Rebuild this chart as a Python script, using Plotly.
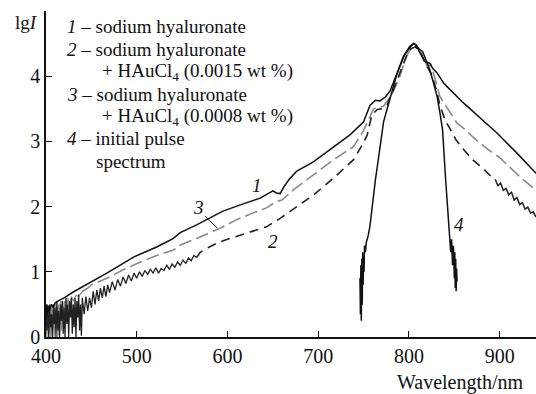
import numpy as np
import plotly.graph_objects as go

# ---- data ----
wl1 = [400, 401, 402, 403, 404, 406, 408, 410, 413, 416, 420, 430, 448, 467, 497, 522, 540, 548, 566,
       595, 615, 636, 650, 654, 658, 662, 668, 676, 695, 713, 735, 750, 757, 763, 768, 774, 779, 787,
       794, 801, 805, 808, 812, 818, 823, 826, 831, 838, 842, 860, 878, 897, 919, 940]
lg1 = [0.30, 0.50, 0.35, 0.48, 0.40, 0.50, 0.45, 0.52, 0.55, 0.57, 0.60, 0.69, 0.83, 0.98, 1.23, 1.38, 1.51, 1.60, 1.72,
       1.93, 2.03, 2.13, 2.24, 2.21, 2.20, 2.30, 2.42, 2.54, 2.69, 2.88, 3.10, 3.30, 3.55, 3.63, 3.62, 3.68, 3.77, 4.05,
       4.31, 4.46, 4.50, 4.48, 4.36, 4.22, 4.20, 4.12, 4.05, 3.90, 3.84, 3.59, 3.36, 3.13, 2.82, 2.51]

wl2 = [400, 401, 402, 403, 404, 405, 406, 407, 408, 409, 410, 411, 412, 413, 414, 415, 416, 417, 418, 419,
       420, 421, 422, 423, 424, 425, 426, 427, 428, 429, 430, 431, 432, 433, 434, 435, 436, 437, 438, 439,
       440, 442, 444, 446, 448, 450, 452, 454, 456, 458, 460, 462, 464, 466, 468, 470, 473, 476, 479, 482,
       485, 488, 491, 494, 497, 500, 503, 506, 509, 512, 515, 518, 521, 524, 527, 530, 533, 536, 539, 542,
       545, 548, 551, 554, 557, 560, 563, 566, 570, 580, 590, 600, 614, 628, 643, 658, 676, 695, 717, 739,
       750, 754, 759, 765, 770, 776, 783, 790, 797, 802, 807, 812, 818, 825, 830, 834, 840, 845, 852, 860,
       870, 882, 890, 895, 898, 901, 904, 907, 910, 913, 916, 919, 922, 925, 928, 931, 934, 937, 940]
lg2 = [0.45, 0.10, 0.40, 0.00, 0.50, 0.15, 0.35, 0.00, 0.50, 0.20, 0.45, 0.00, 0.55, 0.10, 0.40, 0.00, 0.50, 0.25, 0.55, 0.05,
       0.45, 0.00, 0.60, 0.20, 0.50, 0.00, 0.55, 0.30, 0.60, 0.05, 0.50, 0.15, 0.60, 0.00, 0.55, 0.30, 0.65, 0.10, 0.50, 0.02,
       0.60, 0.35, 0.62, 0.40, 0.60, 0.45, 0.70, 0.50, 0.72, 0.55, 0.75, 0.60, 0.78, 0.62, 0.80, 0.68, 0.85, 0.72, 0.88, 0.78,
       0.92, 0.82, 0.95, 0.86, 0.98, 0.90, 1.00, 0.93, 1.02, 0.96, 1.04, 0.98, 1.06, 0.98, 1.05, 1.02, 1.10, 1.04, 1.12, 1.07,
       1.15, 1.10, 1.18, 1.13, 1.21, 1.17, 1.25, 1.22, 1.30, 1.38, 1.45, 1.50, 1.56, 1.63, 1.69, 1.82, 2.00, 2.18, 2.44, 2.72,
       2.98, 3.10, 3.40, 3.49, 3.50, 3.56, 3.80, 4.05, 4.30, 4.42, 4.45, 4.38, 4.20, 4.02, 3.80, 3.56, 3.32, 3.20, 3.02, 2.88,
       2.72, 2.58, 2.47, 2.42, 2.32, 2.36, 2.25, 2.28, 2.18, 2.22, 2.10, 2.14, 2.03, 2.06, 1.96, 1.99, 1.90, 1.92, 1.84]

wl3 = [400, 401, 402, 403, 404, 405, 406, 407, 408, 409, 410, 411, 412, 413, 414, 415, 416, 417, 418, 419,
       420, 422, 424, 426, 428, 430, 433, 436, 440, 445, 450, 467, 485, 504, 522, 540, 548, 566, 592, 610,
       628, 643, 654, 660, 673, 695, 717, 739, 750, 756, 761, 766, 772, 782, 790, 797, 802, 807, 812, 817,
       820, 824, 828, 834, 845, 853, 862, 871, 885, 900, 922, 940]
lg3 = [0.30, 0.00, 0.35, 0.05, 0.40, 0.00, 0.45, 0.10, 0.30, 0.00, 0.50, 0.15, 0.45, 0.00, 0.50, 0.20, 0.55, 0.10, 0.50, 0.30,
       0.55, 0.35, 0.60, 0.45, 0.62, 0.55, 0.64, 0.62, 0.70, 0.74, 0.80, 0.90, 1.03, 1.15, 1.25, 1.33, 1.41, 1.51, 1.67, 1.80,
       1.90, 1.98, 2.08, 2.10, 2.26, 2.49, 2.72, 2.92, 3.17, 3.35, 3.50, 3.52, 3.54, 3.74, 4.00, 4.30, 4.42, 4.46, 4.40, 4.25,
       4.15, 4.18, 4.00, 3.69, 3.45, 3.28, 3.18, 3.06, 2.90, 2.75, 2.46, 2.25]

wl4 = [746, 746.5, 747, 747.5, 748, 748.5, 749, 749.5, 750, 750.5, 751, 752, 753, 754, 755, 757, 760, 763,
       765, 768, 772, 776, 780, 783, 786, 790, 795, 800, 803, 805, 808, 811, 815, 820, 823, 827, 831, 834,
       837, 840, 842, 843.5, 845, 846, 847, 848, 849, 850, 850.5, 851, 851.5, 852, 852.5, 853]
lg4 = [0.90, 0.35, 1.10, 0.25, 1.20, 0.50, 1.30, 0.80, 1.25, 1.00, 1.40, 1.30, 1.45, 1.50, 1.55, 1.70, 2.10, 2.41,
       2.60, 2.92, 3.30, 3.50, 3.70, 3.85, 4.00, 4.15, 4.32, 4.42, 4.46, 4.50, 4.47, 4.42, 4.38, 4.22, 4.10, 3.90, 3.69, 3.45,
       3.18, 2.50, 2.10, 1.85, 1.60, 1.30, 1.50, 1.10, 1.40, 0.90, 1.30, 0.75, 1.20, 0.70, 1.05, 0.85]

x_ticks = [400, 500, 600, 700, 800, 900]
y_ticks = [0, 1, 2, 3, 4]

legend_lines = [
    ("<i>1</i> – sodium hyaluronate", 0),
    ("<i>2</i> – sodium hyaluronate", 0),
    ("+ HAuCl<sub>4</sub> (0.0015 wt %)", 1),
    ("<i>3</i> – sodium hyaluronate", 0),
    ("+ HAuCl<sub>4</sub> (0.0008 wt %)", 1),
    ("<i>4</i> – initial pulse", 0),
    ("spectrum", 2),
]

# ---- layout geometry ----
W, H = 536, 394
ML, MR, MT, MB = 46, 0, 11, 57
PW, PH = W - ML - MR, H - MT - MB
FONT = "'Liberation Serif', 'Times New Roman', Times, serif"


def px(x):
    return (x - ML) / PW


def py(y):
    return (H - MB - y) / PH


def seg(wl, lg, lo, hi):
    wl = np.asarray(wl, float)
    lg = np.asarray(lg, float)
    m = (wl >= lo) & (wl <= hi)
    return wl[m], lg[m]


fig = go.Figure()

# curve 3 (grey): noisy solid start, then dashed
x, y = seg(wl3, lg3, 400, 445)
fig.add_trace(go.Scatter(x=x, y=y, mode="lines", line=dict(color="#8a8a8a", width=1.2), hoverinfo="skip"))
x, y = seg(wl3, lg3, 440, 950)
fig.add_trace(go.Scatter(x=x, y=y, mode="lines",
                         line=dict(color="#8a8a8a", width=1.6, dash="13px,5px"), hoverinfo="skip"))

# curve 2 (dark): noisy solid, dashed, noisy solid
x, y = seg(wl2, lg2, 400, 566)
fig.add_trace(go.Scatter(x=x, y=y, mode="lines", line=dict(color="#222", width=1.3), hoverinfo="skip"))
x, y = seg(wl2, lg2, 566, 895)
fig.add_trace(go.Scatter(x=x, y=y, mode="lines",
                         line=dict(color="#222", width=1.6, dash="9px,6px"), hoverinfo="skip"))
x, y = seg(wl2, lg2, 895, 950)
fig.add_trace(go.Scatter(x=x, y=y, mode="lines", line=dict(color="#222", width=1.5), hoverinfo="skip"))

# curve 1 (black solid)
fig.add_trace(go.Scatter(x=wl1, y=lg1, mode="lines", line=dict(color="#111", width=1.5), hoverinfo="skip"))

# curve 4 (black solid)
fig.add_trace(go.Scatter(x=wl4, y=lg4, mode="lines", line=dict(color="#111", width=1.5), hoverinfo="skip"))

ann = []
# legend text lines
line_y = [26.7, 50, 71.7, 95, 116.7, 138.3, 161.7]
indent_x = [65, 100, 93.5]
for (txt, ind), yy in zip(legend_lines, line_y):
    ann.append(dict(x=px(indent_x[ind]), y=py(yy), xref="paper", yref="paper", text=txt, showarrow=False,
                    xanchor="left", yanchor="middle", font=dict(family=FONT, size=19, color="#111")))

# curve number labels
for txt, (lx, ly) in zip(["<i>1</i>", "<i>2</i>", "<i>3</i>", "<i>4</i>"],
                         [(632.3, 2.33), (650.6, 1.46), (567.9, 1.98), (854.6, 1.72)]):
    ann.append(dict(x=lx, y=ly, xref="x", yref="y", text=txt, showarrow=False,
                    xanchor="center", yanchor="middle", font=dict(family=FONT, size=19, color="#111")))

# axis titles
ann.append(dict(x=px(40), y=py(22), xref="paper", yref="paper", text="lg<i>I</i>", showarrow=False,
                xanchor="right", yanchor="middle", font=dict(family=FONT, size=19, color="#111")))
ann.append(dict(x=px(526), y=py(382), xref="paper", yref="paper", text="Wavelength/nm", showarrow=False,
                xanchor="right", yanchor="middle", font=dict(family=FONT, size=20, color="#111")))

fig.update_layout(
    width=W, height=H,
    margin=dict(l=ML, r=MR, t=MT, b=MB),
    paper_bgcolor="white", plot_bgcolor="white",
    showlegend=False,
    annotations=ann,
    shapes=[dict(type="line", xref="x", yref="y", x0=575.3, y0=1.85, x1=588.9, y1=1.67,
                 line=dict(color="#111", width=1))],
    font=dict(family=FONT, size=20, color="#111"),
)
fig.update_xaxes(range=[400, 940], tickvals=x_ticks, ticks="inside", ticklen=6, tickwidth=1.3,
                 tickcolor="#111", showline=True, linecolor="#111", linewidth=1.5, showgrid=False,
                 zeroline=False, tickfont=dict(family=FONT, size=20, color="#111"))
fig.update_yaxes(range=[0, 5], tickvals=y_ticks, ticks="inside", ticklen=6, tickwidth=1.3,
                 tickcolor="#111", showline=True, linecolor="#111", linewidth=1.5, showgrid=False,
                 zeroline=False, tickfont=dict(family=FONT, size=20, color="#111"))

fig.write_html("out.html")
